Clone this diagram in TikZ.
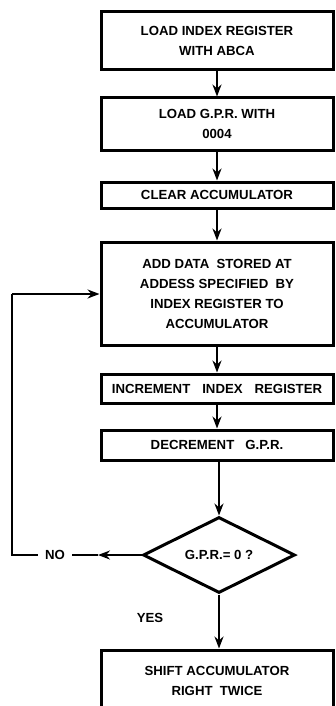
\documentclass[tikz,border=0pt]{standalone}
\usepackage{fontspec}
\setmainfont{Liberation Sans}
\usetikzlibrary{arrows.meta,shapes.geometric}
\begin{document}
\begin{tikzpicture}[x=1pt,y=-1pt,
  every node/.style={font=\bfseries\fontsize{13.2}{20}\selectfont},
  box/.style={draw,line width=3pt,minimum width=232pt,inner sep=0pt,align=center},
  dia/.style={draw,diamond,line width=3pt,minimum width=152pt,minimum height=76pt,aspect=2,inner sep=0pt},
  flow/.style={line width=2pt},
  arr/.style={flow,-{Stealth[length=12pt,width=9pt]}},
  lbl/.style={inner sep=0pt}]
\useasboundingbox (0,0) rectangle (335,706);
\node[box,minimum height=58pt] (b1) at (217,41) {LOAD INDEX REGISTER\\WITH ABCA};
\node[box,minimum height=52pt] (b2) at (217,124) {LOAD G.P.R. WITH\\0004};
\node[box,minimum height=26pt] (b3) at (217,195) {CLEAR ACCUMULATOR};
\node[box,minimum height=103pt] (b4) at (217,293.5) {ADD DATA\ \ STORED AT\\ADDESS SPECIFIED\ \ BY\\INDEX REGISTER TO\\ACCUMULATOR};
\node[box,minimum height=29pt] (b5) at (217,388.5) {INCREMENT\hspace{12pt}INDEX\hspace{12pt}REGISTER};
\node[box,minimum height=30pt] (b6) at (217,445) {DECREMENT\ \ \ G.P.R.};
\node[dia] (d) at (219,555) {G.P.R.= 0 ?};
\node[box,minimum height=62pt] (b7) at (217,681) {SHIFT ACCUMULATOR\\RIGHT\ \ TWICE};
\node[lbl] (no) at (55,555) {NO};
\node[lbl] (yes) at (150,618) {YES};
\coordinate (noarr) at (98,555);
\coordinate (lc) at (12,555);
\coordinate (uc) at (12,294);
\draw[arr] (b1) -- (b2);
\draw[arr] (b2) -- (b3);
\draw[arr] (b3) -- (b4);
\draw[arr] (b4) -- (b5);
\draw[arr] (b5) -- (b6);
\draw[arr] (b6.south -| d.north) -- (d.north);
\draw[arr] (d.south) -- (d.south |- b7.north);
\draw[arr] (d.west) -- (noarr);
\draw[flow] (noarr) -- ([xshift=7pt]no.east);
\draw[flow] ([xshift=-7pt]no.west) -- (lc) -- (uc);
\draw[arr] (uc) -- (uc -| b4.west);
\end{tikzpicture}
\end{document}
